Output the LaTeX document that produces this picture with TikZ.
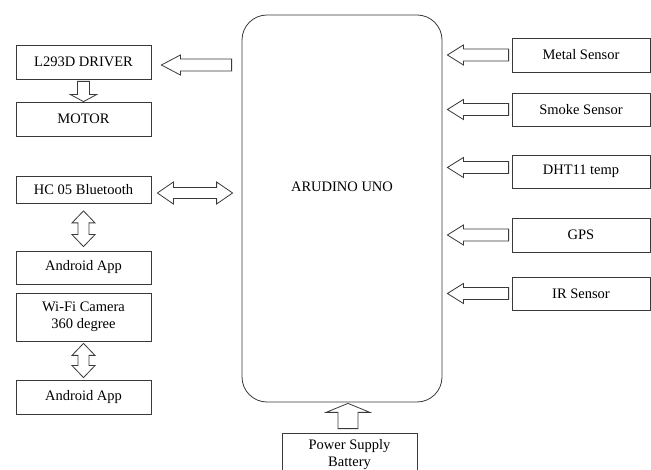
\documentclass[tikz,border=0pt]{standalone}
\usepackage{fontspec}
\setmainfont{Liberation Serif}
\usetikzlibrary{calc}
\definecolor{ln}{HTML}{3A3A3A}
\tikzset{
  box/.style={draw=ln, line width=0.8pt, rectangle, inner sep=0pt, align=center,
    font=\fontsize{14.5}{17.5}\selectfont, text=black},
  lbox/.style={box, minimum width=135pt},
  rbox/.style={box, minimum width=138pt},
  fw/.code={\def\fw{#1}}, fh/.code={\def\fh{#1}}, fk/.code={\def\fk{#1}},
  fw=6, fh=10, fk=18,
  fat/.style={draw=ln, fill=white, line width=0.8pt, line join=miter},
  onehead/.style={fat, to path={let \p1=(\tikztostart), \p2=(\tikztotarget),
      \n1={atan2(\y2-\y1,\x2-\x1)}, \n2={veclen(\x2-\x1,\y2-\y1)} in
      ([shift={(\p1)},rotate=\n1]0pt,{\fw*1pt})
      -- ([shift={(\p1)},rotate=\n1]{\n2*1pt-\fk*1pt},{\fw*1pt})
      -- ([shift={(\p1)},rotate=\n1]{\n2*1pt-\fk*1pt},{\fh*1pt})
      -- ([shift={(\p1)},rotate=\n1]{\n2*1pt},0pt)
      -- ([shift={(\p1)},rotate=\n1]{\n2*1pt-\fk*1pt},{-\fh*1pt})
      -- ([shift={(\p1)},rotate=\n1]{\n2*1pt-\fk*1pt},{-\fw*1pt})
      -- ([shift={(\p1)},rotate=\n1]0pt,{-\fw*1pt}) -- cycle}},
  twohead/.style={fat, to path={let \p1=(\tikztostart), \p2=(\tikztotarget),
      \n1={atan2(\y2-\y1,\x2-\x1)}, \n2={veclen(\x2-\x1,\y2-\y1)} in
      ([shift={(\p1)},rotate=\n1]0pt,0pt)
      -- ([shift={(\p1)},rotate=\n1]{\fk*1pt},{\fh*1pt})
      -- ([shift={(\p1)},rotate=\n1]{\fk*1pt},{\fw*1pt})
      -- ([shift={(\p1)},rotate=\n1]{\n2*1pt-\fk*1pt},{\fw*1pt})
      -- ([shift={(\p1)},rotate=\n1]{\n2*1pt-\fk*1pt},{\fh*1pt})
      -- ([shift={(\p1)},rotate=\n1]{\n2*1pt},0pt)
      -- ([shift={(\p1)},rotate=\n1]{\n2*1pt-\fk*1pt},{-\fh*1pt})
      -- ([shift={(\p1)},rotate=\n1]{\n2*1pt-\fk*1pt},{-\fw*1pt})
      -- ([shift={(\p1)},rotate=\n1]{\fk*1pt},{-\fw*1pt})
      -- ([shift={(\p1)},rotate=\n1]{\fk*1pt},{-\fh*1pt}) -- cycle}},
}
\begin{document}
\begin{tikzpicture}[x=1pt,y=-1pt]
\useasboundingbox (0,0) rectangle (651,470);
\clip (0,0) rectangle (651,470);
\fill[white] (0,0) rectangle (651,470);

% main board
\node[box, rounded corners=25pt, minimum width=200pt, minimum height=387pt,
  label={[font=\fontsize{14.5}{17.5}\selectfont, text=black, yshift=21.5pt]center:ARUDINO UNO}]
  (main) at (342,208.5) {};

% left column
\node[lbox, minimum height=34pt] (drv) at (83.5,62) {L293D DRIVER};
\node[lbox, minimum height=34pt] (mot) at (83.5,119) {MOTOR};
\node[lbox, minimum height=27pt] (hc) at (83.5,190) {HC 05 Bluetooth};
\node[lbox, minimum height=33pt] (and1) at (83.5,267.5) {Android App};
\node[lbox, minimum height=48pt] (cam) at (83.5,317) {Wi-Fi Camera\\360 degree};
\node[lbox, minimum height=34pt] (and2) at (83.5,397) {Android App};

% right column
\node[rbox, minimum height=34pt] (metal) at (581,55) {Metal Sensor};
\node[rbox, minimum height=33pt] (smoke) at (581,109.5) {Smoke Sensor};
\node[rbox, minimum height=33pt] (dht) at (581,171.5) {DHT11 temp};
\node[rbox, minimum height=34pt] (gps) at (581,235) {GPS};
\node[rbox, minimum height=33pt] (ir) at (581,293.5) {IR Sensor};

% power
\node[lbox, minimum height=43pt] (pwr) at (349.5,454.5) {Power Supply\\Battery};

% arrows
\draw[onehead, fw=6, fh=10, fk=19]
  ([xshift=-10pt,yshift=-3pt]main.west |- drv) to ([xshift=10pt,yshift=-3pt]drv.east);
\draw[onehead, fw=6, fh=13, fk=7]
  ([yshift=-2pt]drv.south) to (mot.north);
\draw[twohead, fw=5.5, fh=11, fk=16]
  ([xshift=6pt,yshift=-3pt]hc.east) to ([xshift=-9pt,yshift=-3pt]main.west |- hc);
\draw[twohead, fw=5.5, fh=11.5, fk=12]
  ([yshift=-7pt]hc.south) to ([yshift=4pt]and1.north);
\draw[twohead, fw=5.5, fh=11.5, fk=12]
  ([yshift=-2pt]cam.south) to ([yshift=2pt]and2.north);

\draw[onehead, fw=6, fh=10, fk=16] ([xshift=-3pt]metal.west) to ([xshift=5pt]main.east |- metal);
\draw[onehead, fw=6, fh=10, fk=16] ([xshift=-3pt]smoke.west) to ([xshift=5pt]main.east |- smoke);
\draw[onehead, fw=6, fh=10, fk=16] ([xshift=-3pt,yshift=4pt]dht.west) to ([xshift=5pt,yshift=4pt]main.east |- dht);
\draw[onehead, fw=6, fh=10, fk=16] ([xshift=-3pt]gps.west) to ([xshift=5pt]main.east |- gps);
\draw[onehead, fw=6, fh=10, fk=16] ([xshift=-3pt]ir.west) to ([xshift=5pt]main.east |- ir);

\draw[onehead, fw=10, fh=22, fk=9]
  ([xshift=-1.5pt,yshift=4pt]pwr.north) to ([xshift=-1.5pt,yshift=-1pt]main.south -| pwr.north);
\end{tikzpicture}
\end{document}
